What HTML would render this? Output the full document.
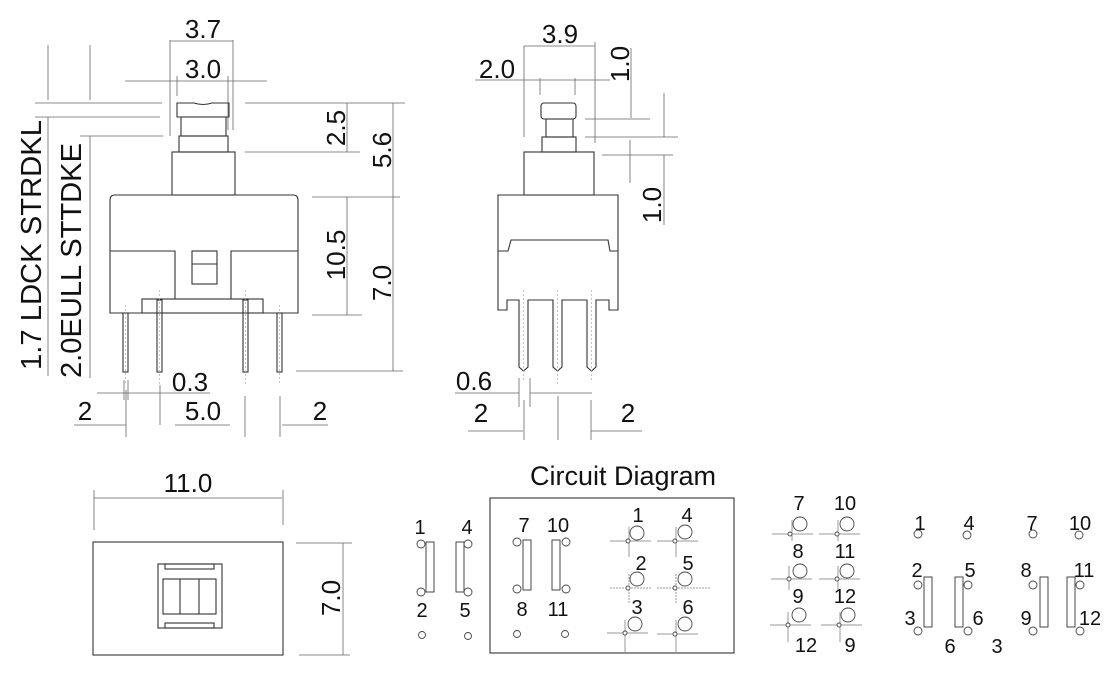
<!DOCTYPE html>
<html><head><meta charset="utf-8"><style>
html,body{margin:0;padding:0;background:#fff;}
svg{display:block;}
text{font-family:"Liberation Sans",Arial,sans-serif;fill:#111;}
.d{stroke:#666;stroke-width:0.8;fill:none;}
.o{stroke:#333;stroke-width:1.1;fill:none;}
.c{stroke:#444;stroke-width:0.9;fill:#fff;}
.cl{stroke:#aaa;stroke-width:0.7;stroke-dasharray:2 2;fill:none;}
.g{stroke:#999;stroke-width:1;fill:none;}
</style></head><body>
<svg width="1120" height="680" viewBox="0 0 1120 680" xmlns="http://www.w3.org/2000/svg">
<!-- ========== FRONT VIEW ========== -->
<g font-size="26" text-anchor="middle">
<text x="203" y="38">3.7</text>
<text x="203" y="78">3.0</text>
<text x="190" y="391">0.3</text>
<text x="85" y="420">2</text>
<text x="203" y="420">5.0</text>
<text x="320" y="420">2</text>
</g>
<g class="d">
<path d="M170 41H233M170 40V136M233 40V130"/>
<path d="M125 81H267M177 76V96M228 76V130"/>
<path d="M35 103H162M35 117H160M80 136H163"/>
<path d="M48 45V100M90 45V100M48 117V376M90 136V378"/>
<path d="M245 103H405M245 152H360M312 197H400M312 315H362M296 371H403"/>
<path d="M347 103V152M393 103V371M347 197V315"/>
<path d="M97 393H210M124 380V400M128 380V400"/>
<path d="M74 425H126M175 425H230M282 425H328"/>
<path d="M126 390V437M160 385V425M245 396V437M280 396V437"/>
</g>
<g font-size="26" text-anchor="middle">
<text transform="translate(345,128) rotate(-90)">2.5</text>
<text transform="translate(391,150) rotate(-90)">5.6</text>
<text transform="translate(345,255) rotate(-90)">10.5</text>
<text transform="translate(391,283) rotate(-90)">7.0</text>
</g>
<g font-size="29">
<text transform="translate(41,370) rotate(-90)" textLength="250" lengthAdjust="spacingAndGlyphs">1.7 LDCK  STRDKL</text>
<text transform="translate(81,378) rotate(-90)" textLength="235" lengthAdjust="spacingAndGlyphs">2.0EULL  STTDKE</text>
</g>
<g class="o">
<path d="M177 117V103H194Q203 106 212 103H229V117Z"/>
<rect x="181" y="117" width="45" height="19"/>
<rect x="179" y="136" width="49" height="16"/>
<rect x="172" y="152" width="63" height="43"/>
<path d="M110 313V200Q110 195 115 195H293Q298 195 298 200V313Z"/>
<path d="M110 251H175V299M298 251H231V299"/>
<rect x="192" y="251" width="25" height="33"/><path d="M192 264H217"/>
<rect x="142" y="299" width="121" height="14"/>
<rect x="123" y="313" width="5" height="59"/>
<rect x="157" y="300" width="5" height="72"/>
<rect x="243" y="300" width="5" height="72"/>
<rect x="277" y="313" width="5" height="59"/>
</g>
<path class="cl" d="M125.5 305V385M159.5 290V385M245.5 290V385M279.5 305V385"/>

<!-- ========== SIDE VIEW ========== -->
<g font-size="26" text-anchor="middle">
<text x="560" y="43">3.9</text>
<text x="497" y="78">2.0</text>
<text x="474" y="390">0.6</text>
<text x="481" y="422">2</text>
<text x="628" y="422">2</text>
<text transform="translate(629,64) rotate(-90)">1.0</text>
<text transform="translate(661,205) rotate(-90)">1.0</text>
</g>
<g class="d">
<path d="M524 46H595M524 46V137M595 42V143"/>
<path d="M475 80H610M540 78V95M575 78V95"/>
<path d="M631 48V118M585 119H650M585 137H678M602 155H673"/>
<path d="M664 93V137M630 140V183M664 155V225"/>
<path d="M455 393H519M530 393H592M519 378V407M530 378V407"/>
<path d="M468 431H523M591 431H642M524 400V440M558 396V440M591 400V440"/>
</g>
<g class="o">
<rect x="541" y="103" width="35" height="16" rx="3"/>
<rect x="546" y="119" width="27" height="18"/>
<rect x="542" y="137" width="34" height="15"/>
<rect x="524" y="152" width="70" height="43"/>
<path d="M498 195H618V310H609V300H596V367L591.5 371L587 367V300H562V367L557.5 371L553 367V300H528V367L523.5 371L519 367V300H507V310H498Z"/>
<path d="M498 251H508L511 240H608L610 251H618"/>
</g>
<path class="cl" d="M523.5 290V380M557.5 290V385M591.5 290V380"/>

<!-- ========== BOTTOM VIEW ========== -->
<g font-size="26" text-anchor="middle">
<text x="188" y="492">11.0</text>
<text transform="translate(340,598) rotate(-90)">7.0</text>
</g>
<g class="d">
<path d="M94 498H282M94 490V530M283 490V525"/>
<path d="M296 543H352M299 655H350M343 543V655"/>
</g>
<g class="o">
<rect x="93" y="542" width="190" height="113"/>
<rect x="158" y="564" width="64" height="64"/>
<rect x="165" y="564" width="49" height="5"/>
<rect x="165" y="623" width="49" height="5"/>
<rect x="163" y="579" width="53" height="35"/>
<path d="M180 579V614M199 579V614"/>
</g>

<!-- ========== CIRCUIT DIAGRAM ========== -->
<text x="623" y="485" font-size="27" text-anchor="middle">Circuit Diagram</text>
<rect x="490" y="498" width="244" height="155" class="o"/>
<g font-size="20" text-anchor="middle">
<text x="420" y="534">1</text><text x="467" y="534">4</text>
<text x="422" y="617">2</text><text x="465" y="617">5</text>
<text x="524" y="532">7</text><text x="558" y="532">10</text>
<text x="522" y="616">8</text><text x="558" y="616">11</text>
<text x="638" y="522">1</text><text x="687" y="522">4</text>
<text x="641" y="570">2</text><text x="688" y="570">5</text>
<text x="637" y="614">3</text><text x="688" y="614">6</text>
<text x="799" y="510">7</text><text x="845" y="510">10</text>
<text x="798" y="558">8</text><text x="845" y="558">11</text>
<text x="798" y="603">9</text><text x="845" y="603">12</text>
<text x="806" y="652">12</text><text x="850" y="652">9</text>
<text x="920" y="530">1</text><text x="969" y="530">4</text>
<text x="1032" y="530">7</text><text x="1080" y="530">10</text>
<text x="917" y="577">2</text><text x="970" y="577">5</text>
<text x="1026" y="577">8</text><text x="1084" y="577">11</text>
<text x="910" y="625">3</text><text x="978" y="625">6</text>
<text x="1026" y="625">9</text><text x="1090" y="625">12</text>
<text x="950" y="653">6</text><text x="997" y="653">3</text>
</g>
<g class="o" style="stroke-width:0.9">
<rect x="426" y="542" width="8" height="50"/>
<rect x="456" y="542" width="8" height="50"/>
<rect x="523" y="540" width="8" height="50"/>
<rect x="552" y="540" width="8" height="50"/>
<rect x="924" y="577" width="8" height="50"/>
<rect x="955" y="577" width="8" height="50"/>
<rect x="1040" y="577" width="8" height="50"/>
<rect x="1067" y="577" width="8" height="50"/>
</g>
<g class="c">
<circle cx="421" cy="544" r="4"/><circle cx="468" cy="544" r="4"/>
<circle cx="421" cy="592" r="4"/><circle cx="468" cy="592" r="4"/>
<circle cx="422" cy="635" r="3.5"/><circle cx="468" cy="636" r="3.5"/>
<circle cx="517" cy="542" r="4"/><circle cx="566" cy="542" r="4"/>
<circle cx="517" cy="589" r="4"/><circle cx="566" cy="589" r="4"/>
<circle cx="517" cy="634" r="3.5"/><circle cx="565" cy="634" r="3.5"/>
<circle cx="918" cy="534" r="4"/><circle cx="967" cy="535" r="4"/>
<circle cx="1033" cy="534" r="4"/><circle cx="1079" cy="535" r="4"/>
<circle cx="918" cy="585" r="4"/><circle cx="968" cy="585" r="4"/>
<circle cx="1033" cy="585" r="4"/><circle cx="1080" cy="585" r="4"/>
<circle cx="918" cy="631" r="4"/><circle cx="968" cy="631" r="4"/>
<circle cx="1033" cy="631" r="4"/><circle cx="1080" cy="631" r="4"/>
</g>
<g>
<path class="g" d="M610 541H651M629 527V557M657 541H698M676 527V557"/>
<path class="g" d="M610 588H651M629 574V604M657 588H710M676 574V604" style="stroke-dasharray:2 1"/>
<path class="g" d="M607 633H648M625 620V652M657 634H698M676 620V652"/>
<path class="g" d="M772 534H813M792 520V541M819 534H860M838 520V541"/>
<path class="g" d="M771 579H812M789 566V590M819 579H860M838 566V590"/>
<path class="g" d="M770 625H811M788 612V642M821 625H862M840 612V642"/>
</g>
<g class="c">
<circle cx="637" cy="533" r="7"/><circle cx="685" cy="532" r="7"/>
<circle cx="628" cy="541" r="2"/><circle cx="675" cy="541" r="2"/>
<circle cx="637" cy="579" r="7"/><circle cx="685" cy="579" r="7"/>
<circle cx="628" cy="588" r="2"/><circle cx="675" cy="588" r="2"/>
<circle cx="635" cy="624" r="7"/><circle cx="685" cy="624" r="7"/>
<circle cx="625" cy="633" r="2"/><circle cx="675" cy="634" r="2"/>
<circle cx="800" cy="524" r="7"/><circle cx="847" cy="524" r="7"/>
<circle cx="790" cy="534" r="2"/><circle cx="837" cy="534" r="2"/>
<circle cx="800" cy="571" r="7"/><circle cx="847" cy="571" r="7"/>
<circle cx="789" cy="579" r="2"/><circle cx="837" cy="579" r="2"/>
<circle cx="799" cy="615" r="7"/><circle cx="848" cy="615" r="7"/>
<circle cx="788" cy="625" r="2"/><circle cx="839" cy="625" r="2"/>
</g>
</svg>
</body></html>
